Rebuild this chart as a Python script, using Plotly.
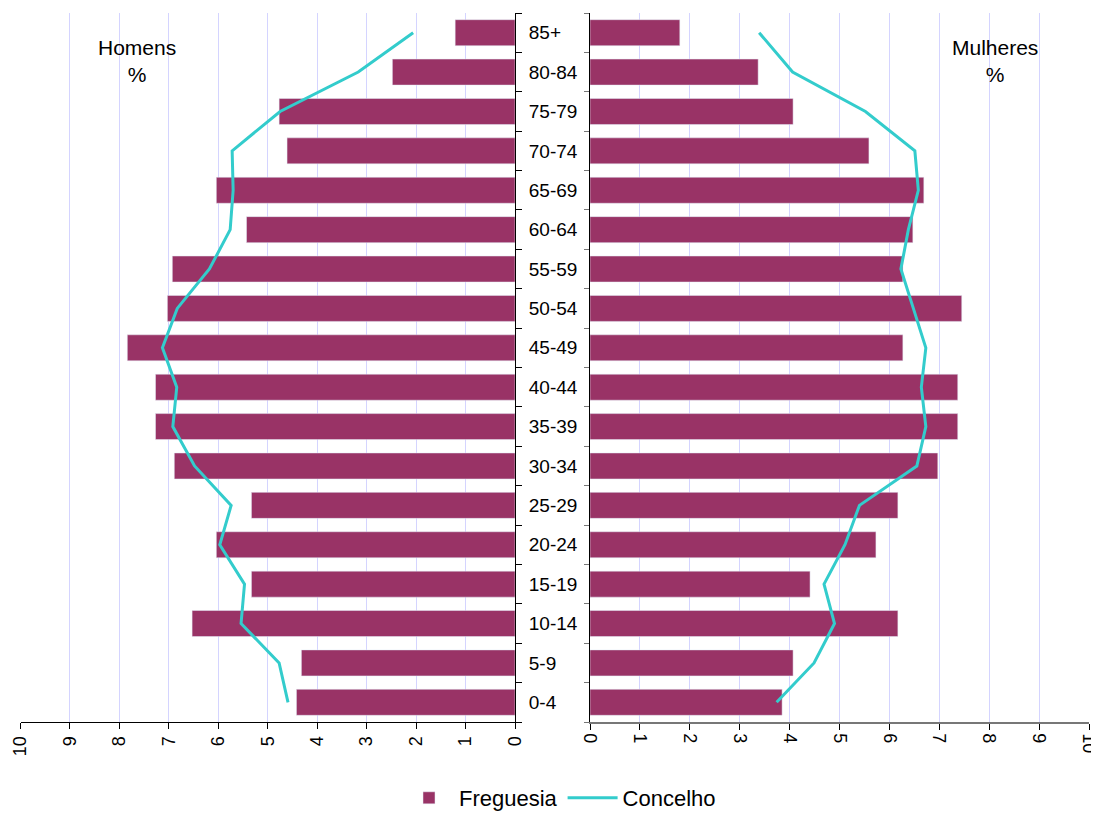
import plotly.graph_objects as go

# age groups, bottom to top
ages = ["0-4", "5-9", "10-14", "15-19", "20-24", "25-29", "30-34", "35-39",
        "40-44", "45-49", "50-54", "55-59", "60-64", "65-69", "70-74",
        "75-79", "80-84", "85+"]

homens_freguesia = [4.42, 4.32, 6.53, 5.33, 6.04, 5.33, 6.89, 7.27, 7.27,
                    7.84, 7.03, 6.93, 5.43, 6.04, 4.61, 4.77, 2.48, 1.21]
homens_concelho = [4.59, 4.77, 5.54, 5.47, 5.97, 5.74, 6.48, 6.92, 6.84,
                   7.13, 6.83, 6.18, 5.76, 5.70, 5.72, 4.75, 3.17, 2.06]
mulheres_freguesia = [3.85, 4.07, 6.17, 4.41, 5.73, 6.17, 6.97, 7.37, 7.37,
                      6.27, 7.45, 6.27, 6.47, 6.69, 5.59, 4.07, 3.37, 1.80]
mulheres_concelho = [3.74, 4.49, 4.90, 4.69, 5.11, 5.40, 6.55, 6.73, 6.64,
                     6.73, 6.48, 6.23, 6.38, 6.58, 6.51, 5.52, 4.06, 3.39]

x_ticks = list(range(0, 11))

BAR = "#993366"
LINE = "#33CCCC"
GRID = "#d4d4ff"
FONT = "Liberation Sans, Arial, sans-serif"

# page body has an 8px margin; figure runs to the right edge of the window
W, H = 1091, 807

fig = go.Figure()

# --- Homens (left) ---
fig.add_trace(go.Bar(
    x=homens_freguesia, y=ages, orientation="h", name="Freguesia",
    marker_color=BAR, legendgroup="f", xaxis="x", yaxis="y",
))
fig.add_trace(go.Scatter(
    x=homens_concelho, y=ages, mode="lines", name="Concelho",
    line=dict(color=LINE, width=3), legendgroup="c", xaxis="x", yaxis="y",
))

# --- Mulheres (right) ---
fig.add_trace(go.Bar(
    x=mulheres_freguesia, y=ages, orientation="h", name="Freguesia",
    marker_color=BAR, legendgroup="f", showlegend=False, xaxis="x2", yaxis="y2",
))
fig.add_trace(go.Scatter(
    x=mulheres_concelho, y=ages, mode="lines", name="Concelho",
    line=dict(color=LINE, width=3), legendgroup="c", showlegend=False,
    xaxis="x2", yaxis="y2",
))

y_dom = [93 / H, 802 / H]
y_rng = [-0.5, len(ages) - 0.5]

fig.update_layout(
    width=W, height=H,
    margin=dict(l=0, r=0, t=0, b=0, autoexpand=False),
    paper_bgcolor="white", plot_bgcolor="white",
    font=dict(family=FONT, color="black", size=17),
    bargap=0.34,
    xaxis=dict(
        domain=[12.5 / W, 507 / W], range=[10, 0], tickvals=x_ticks,
        tickangle=-90, showgrid=True, gridcolor=GRID, gridwidth=1,
        zeroline=False, showline=True, linecolor="black", linewidth=1,
        ticks="outside", ticklen=6, tickcolor="black", anchor="y",
        tickfont=dict(size=18), automargin=False, ticklabeloverflow="allow",
    ),
    yaxis=dict(
        domain=y_dom, type="category", categoryorder="array", categoryarray=ages,
        range=y_rng, side="right", anchor="x", showline=True, linecolor="black",
        linewidth=1, ticks="outside", ticklen=6, tickcolor="black",
        tickson="boundaries", showgrid=False, ticklabelstandoff=9,
        tickfont=dict(size=19), automargin=False,
    ),
    xaxis2=dict(
        domain=[582 / W, 1081 / W], range=[0, 10], tickvals=x_ticks,
        tickangle=90, showgrid=True, gridcolor=GRID, gridwidth=1,
        zeroline=False, showline=True, linecolor="#777777", linewidth=1.5,
        ticks="outside", ticklen=6, tickcolor="black", anchor="y2",
        tickfont=dict(size=18), automargin=False, ticklabeloverflow="allow",
    ),
    yaxis2=dict(
        domain=y_dom, type="category", categoryorder="array", categoryarray=ages,
        range=y_rng, side="left", anchor="x2", showline=True, linecolor="black",
        linewidth=1, ticks="outside", ticklen=5, tickcolor="#777777",
        tickson="boundaries", showgrid=False, showticklabels=False,
        automargin=False,
    ),
    legend=dict(
        orientation="h", x=552 / W, xanchor="center", y=17 / H, yanchor="middle",
        font=dict(size=22), itemwidth=50, bgcolor="rgba(0,0,0,0)",
    ),
    annotations=[
        dict(text="Homens<br>%", x=129 / W, y=1 - 53 / H, xref="paper",
             yref="paper", xanchor="center", yanchor="middle",
             showarrow=False, font=dict(size=21)),
        dict(text="Mulheres<br>%", x=987 / W, y=1 - 53 / H, xref="paper",
             yref="paper", xanchor="center", yanchor="middle",
             showarrow=False, font=dict(size=21)),
    ],
)

fig.write_html("out.html")
